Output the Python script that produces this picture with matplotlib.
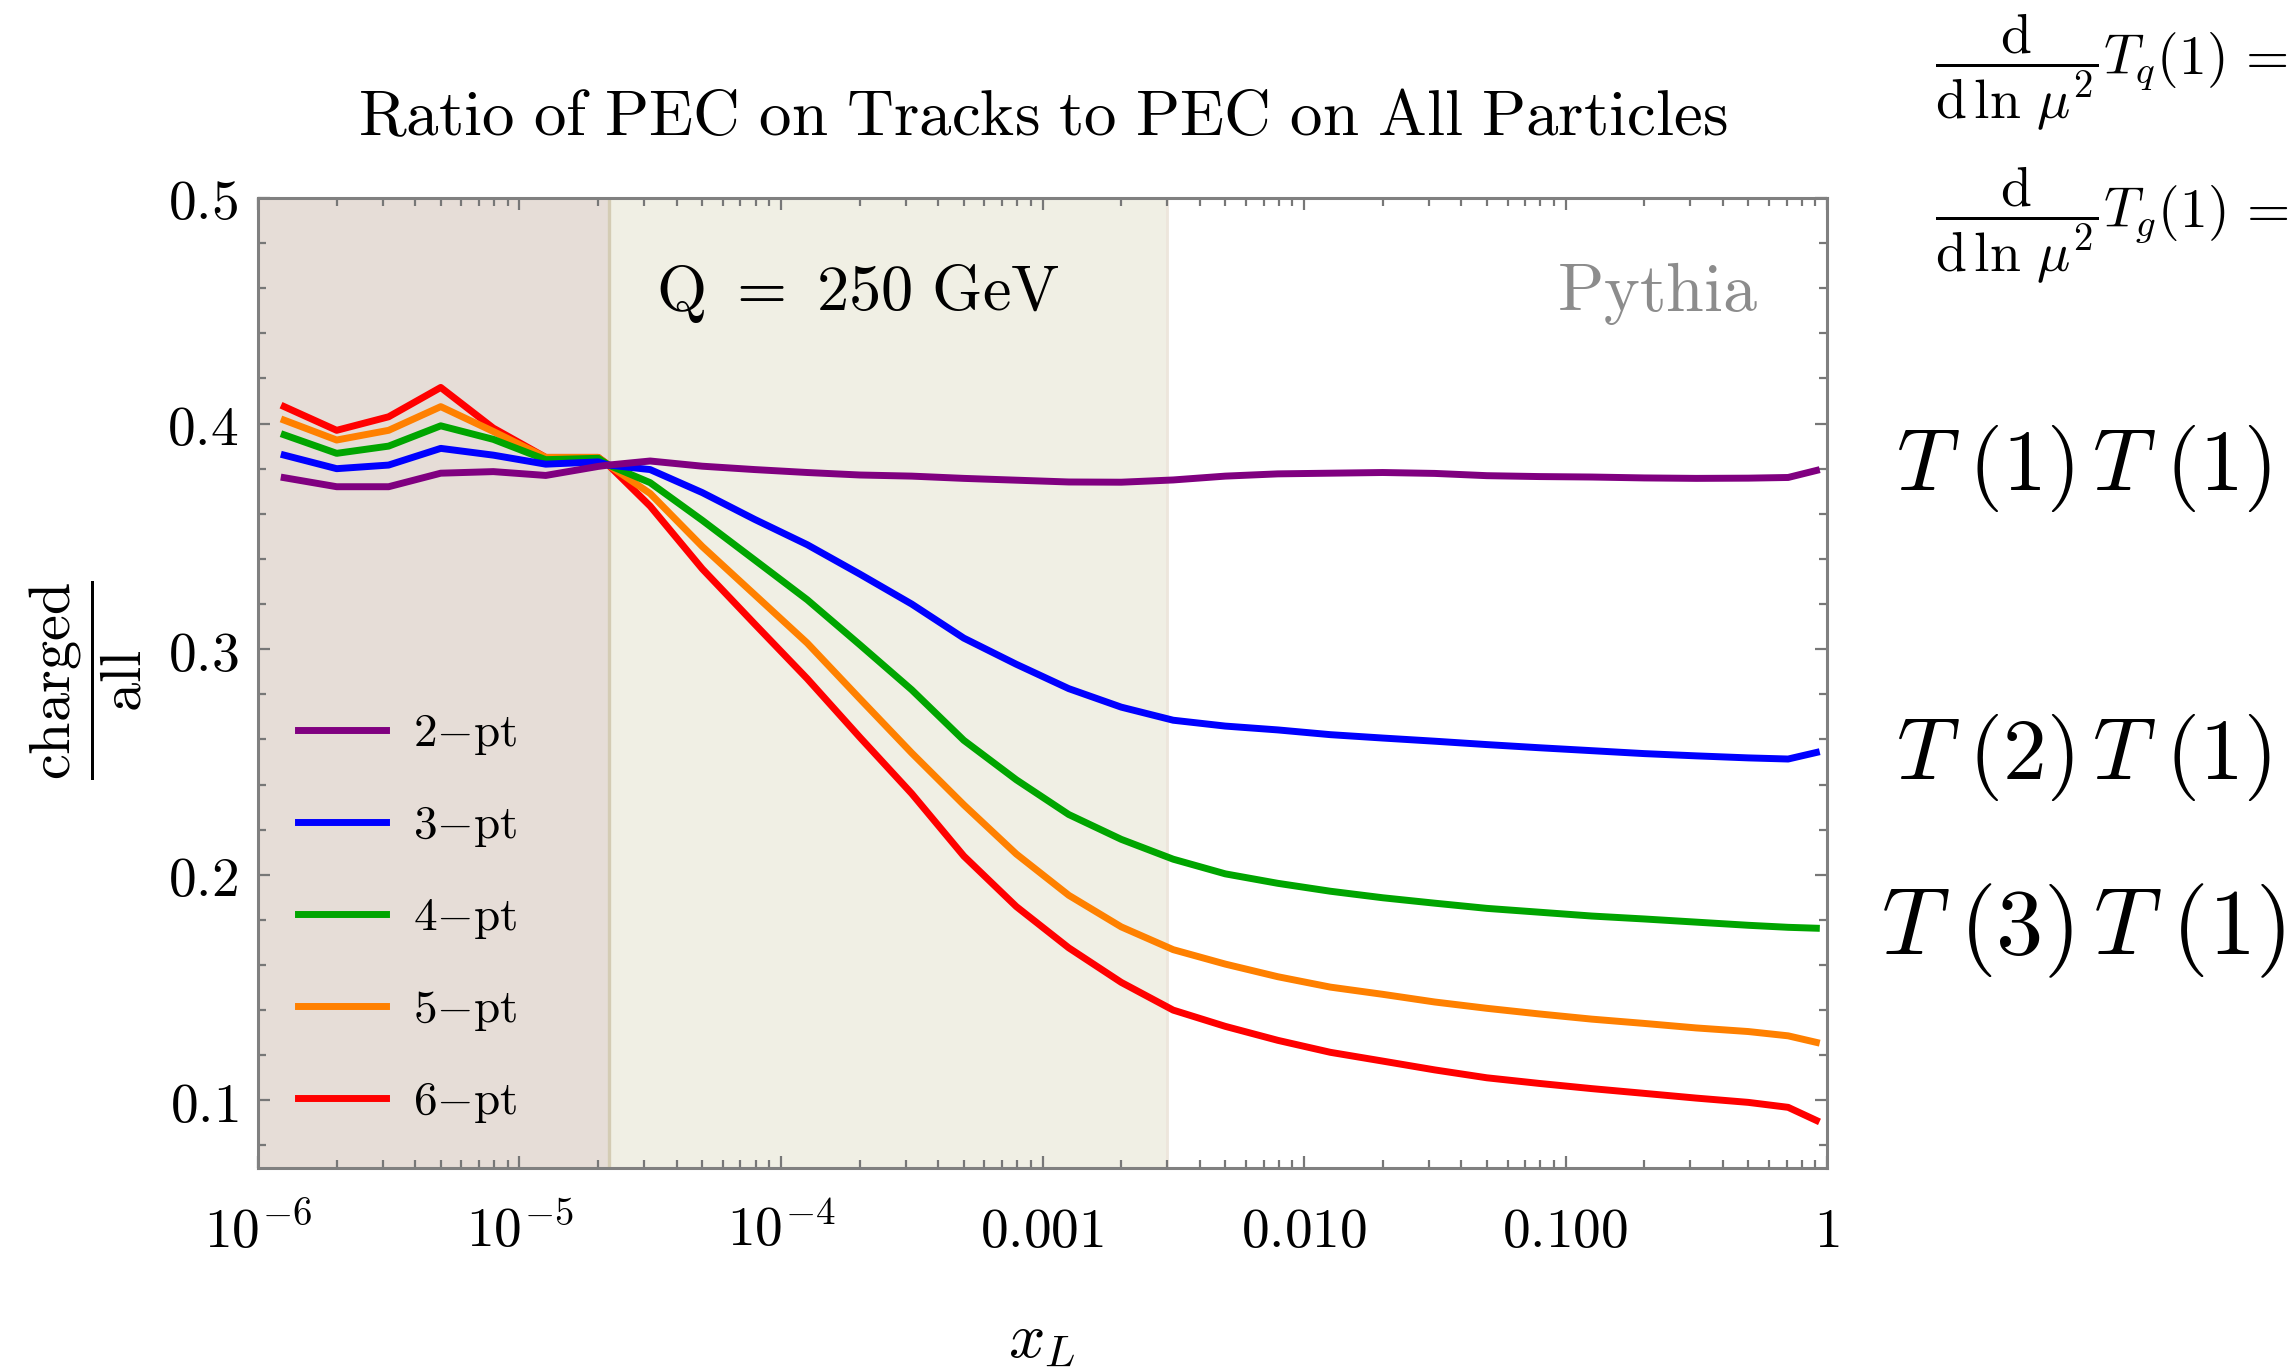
import numpy as np
import matplotlib
matplotlib.use("Agg")
import matplotlib.pyplot as plt
from matplotlib.ticker import FixedLocator, FixedFormatter, LogLocator, MultipleLocator, NullFormatter

# x_L positions of the histogram bins
x_L = [1.26e-6, 2.0e-6, 3.16e-6, 5.0e-6, 7.94e-6, 1.26e-5, 2.0e-5, 2.19e-5,
       3.16e-5, 5.0e-5, 7.94e-5, 1.26e-4, 2.0e-4, 3.16e-4, 5.0e-4, 7.94e-4,
       1.26e-3, 2.0e-3, 3.16e-3, 5.0e-3, 7.94e-3, 1.26e-2, 2.0e-2, 3.16e-2,
       5.0e-2, 7.94e-2, 0.126, 0.2, 0.316, 0.5, 0.71, 0.91]

pt2 = [0.376, 0.372, 0.372, 0.378, 0.3787, 0.377, 0.381, 0.3816,
       0.3834, 0.3811, 0.3796, 0.3783, 0.3772, 0.3767, 0.3757, 0.3749,
       0.3741, 0.374, 0.375, 0.3767, 0.3777, 0.378, 0.3783, 0.3779,
       0.3769, 0.3765, 0.3763, 0.3759, 0.3757, 0.3758, 0.3761, 0.3792]
pt3 = [0.386, 0.380, 0.3816, 0.389, 0.386, 0.382, 0.383, 0.3816,
       0.3796, 0.3694, 0.3575, 0.3463, 0.3333, 0.320, 0.3049, 0.2933,
       0.2825, 0.2743, 0.2685, 0.2659, 0.2642, 0.2621, 0.2606, 0.2592,
       0.2577, 0.2563, 0.255, 0.2537, 0.2527, 0.2518, 0.2513, 0.2542]
pt4 = [0.395, 0.3868, 0.390, 0.399, 0.393, 0.384, 0.3846, 0.3816,
       0.3738, 0.3571, 0.3395, 0.3219, 0.302, 0.282, 0.2596, 0.2421,
       0.2267, 0.2157, 0.2069, 0.2004, 0.1962, 0.1927, 0.1898, 0.1874,
       0.1851, 0.1834, 0.1817, 0.1804, 0.179, 0.1776, 0.1767, 0.1763]
pt5 = [0.4015, 0.3927, 0.397, 0.4075, 0.3965, 0.385, 0.385, 0.3816,
       0.369, 0.3455, 0.3241, 0.3027, 0.2781, 0.254, 0.231, 0.2092,
       0.1909, 0.1769, 0.1668, 0.1604, 0.1548, 0.1502, 0.147, 0.1436,
       0.1408, 0.1383, 0.136, 0.1341, 0.1321, 0.1305, 0.1286, 0.1257]
pt6 = [0.4075, 0.397, 0.403, 0.416, 0.398, 0.385, 0.385, 0.3816,
       0.3634, 0.3356, 0.3111, 0.2869, 0.261, 0.236, 0.2083, 0.1859,
       0.1676, 0.1523, 0.140, 0.1328, 0.1266, 0.1213, 0.1174, 0.1135,
       0.110, 0.1075, 0.1052, 0.1031, 0.101, 0.0991, 0.0969, 0.0911]

series = [pt2, pt3, pt4, pt5, pt6]
labels = ["2", "3", "4", "5", "6"]
colors = ["#800080", "#0000FF", "#00A500", "#FF8000", "#FF0000"]

# shaded x_L ranges
region1 = (1e-6, 2.2e-5)
region2 = (2.2e-5, 3.0e-3)

x_ticks = [1e-6, 1e-5, 1e-4, 1e-3, 1e-2, 1e-1, 1]
x_ticklabels = [r"$10^{-6}$", r"$10^{-5}$", r"$10^{-4}$", r"$0.001$", r"$0.010$", r"$0.100$", r"$1$"]
y_ticks = [0.1, 0.2, 0.3, 0.4, 0.5]
y_ticklabels = [r"$0.1$", r"$0.2$", r"$0.3$", r"$0.4$", r"$0.5$"]

plt.rcParams["mathtext.fontset"] = "cm"
plt.rcParams["font.family"] = ["DejaVu Serif"]

fig = plt.figure(figsize=(11.475, 6.845), dpi=200)
ax = fig.add_axes([0.1124, 0.1468, 0.6837, 0.7086])

ax.axvspan(*region1, color="#E6DDD7", lw=0, zorder=0)
ax.axvspan(*region2, color="#F0EFE4", lw=0, zorder=0)
ax.axvline(region1[1], color="#D4CCB4", lw=1.2, zorder=0.5)
ax.axvline(region2[1], color="#EDE6DC", lw=1.0, zorder=0.5)

for i, (vals, lab, c) in enumerate(zip(series, labels, colors)):
    ax.plot(x_L, vals, color=c, lw=2.5, label=r"$\mathrm{%s{-}pt}$" % lab, zorder=10 - i)

ax.set_xscale("log")
ax.set_xlim(1e-6, 1)
ax.set_ylim(0.07, 0.5)

ax.xaxis.set_major_locator(FixedLocator(x_ticks))
ax.xaxis.set_major_formatter(FixedFormatter(x_ticklabels))
ax.xaxis.set_minor_locator(LogLocator(base=10, subs=np.arange(2, 10)))
ax.xaxis.set_minor_formatter(NullFormatter())
ax.yaxis.set_major_locator(FixedLocator(y_ticks))
ax.yaxis.set_major_formatter(FixedFormatter(y_ticklabels))
ax.yaxis.set_minor_locator(MultipleLocator(0.02))

ax.tick_params(which="both", direction="in", top=True, right=True, color="#777777", width=0.8)
ax.tick_params(which="major", length=4.3, labelsize=20)
ax.tick_params(which="minor", length=2.9)
ax.tick_params(axis="x", which="major", pad=13)
ax.tick_params(axis="y", which="major", pad=7)
for sp in ax.spines.values():
    sp.set_color("#808080")
    sp.set_linewidth(1.1)

ax.legend(loc="lower left", bbox_to_anchor=(0.0255, 0.044), frameon=False, fontsize=17,
          handlelength=1.86, handletextpad=0.57, labelspacing=0.97,
          borderpad=0, borderaxespad=0)

ax.text(0.3824, 0.902, r"$\mathrm{Q\ =\ 250\ GeV}$", transform=ax.transAxes,
        ha="center", va="center", fontsize=23.2)
ax.text(0.8917, 0.902, r"$\mathrm{Pythia}$", transform=ax.transAxes,
        ha="center", va="center", fontsize=24.5, color="#8c8c8c")

fig.text(0.4545, 0.9145, r"$\mathrm{Ratio\ of\ PEC\ on\ Tracks\ to\ PEC\ on\ All\ Particles}$",
         ha="center", va="center", fontsize=23.4)
fig.text(0.0375, 0.5033, r"$\dfrac{\mathrm{charged}}{\mathrm{all}}$", rotation=90,
         ha="center", va="center", fontsize=21)
fig.text(0.454, 0.0219, r"$x_L$", ha="center", va="center", fontsize=23)

fig.text(0.8262, 0.6581, r"$T\;(1)\,T\;(1)$", ha="left", va="center", fontsize=31.5)
fig.text(0.8262, 0.447, r"$T\;(2)\,T\;(1)$", ha="left", va="center", fontsize=31.5)
fig.text(0.8195, 0.320, r"$T\;(3)\,T\;(1)$", ha="left", va="center", fontsize=34)
fig.text(0.843, 0.947, r"$\dfrac{\mathrm{d}}{\mathrm{d}\,\ln\,\mu^2}T_q(1)\,{=}$", ha="left", va="center", fontsize=20)
fig.text(0.843, 0.8357, r"$\dfrac{\mathrm{d}}{\mathrm{d}\,\ln\,\mu^2}T_g(1)\,{=}$", ha="left", va="center", fontsize=20)

fig.savefig("out.png", dpi=200)
